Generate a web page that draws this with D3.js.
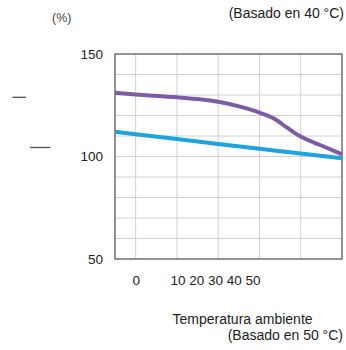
<!DOCTYPE html>
<html>
<head>
<meta charset="utf-8">
<script src="https://cdn.jsdelivr.net/npm/d3@7"></script>
<style>
  html, body { margin: 0; padding: 0; background: #fff; }
  svg { display: block; font-family: "Liberation Sans", Arial, sans-serif; }
</style>
</head>
<body>
<svg id="chart" width="346" height="350"></svg>
<script>
// ---- data ----
const purpleX = [-5, 0, 10, 15.6, 20, 25.3, 30, 33.4, 36.6, 40, 44.7, 50];
const purpleY = [131.1, 130.3, 128.9, 127.9, 126.7, 124.3, 121.4, 118.6, 114.2, 109.7, 105.6, 101.1];
const blueX = [-5, 0, 10, 20, 30, 40, 50];
const blueY = [112.1, 110.9, 108.5, 106.1, 103.8, 101.5, 99.1];
const yTicks = [150, 100, 50];
const yGrid = [60, 70, 80, 90, 100, 110, 120, 130, 140];
const xGrid = [0, 10, 20, 30, 40];
const xTickFirst = ["0"];
const xTickRest = ["10", "20", "30", "40", "50"];
const topNote = "(Basado en 40 °C)";
const unitLabel = "(%)";
const xTitle = "Temperatura ambiente";
const xNote = "(Basado en 50 °C)";

// ---- layout ----
const svg = d3.select("#chart");
const L = 115, R = 342, T = 54, B = 259;
const x = d3.scaleLinear().domain([-5, 50]).range([L, R]);
const y = d3.scaleLinear().domain([50, 150]).range([B, T]);

// grid
svg.append("g").selectAll("line").data(yGrid).join("line")
  .attr("x1", L).attr("x2", R).attr("y1", d => y(d)).attr("y2", d => y(d))
  .attr("stroke", "#d0d0d0").attr("stroke-width", 1);
svg.append("g").selectAll("line").data(xGrid).join("line")
  .attr("x1", d => x(d)).attr("x2", d => x(d)).attr("y1", T).attr("y2", B)
  .attr("stroke", "#d0d0d0").attr("stroke-width", 1);

// border
svg.append("rect").attr("x", L).attr("y", T).attr("width", R - L).attr("height", B - T)
  .attr("fill", "none").attr("stroke", "#5a5a5a").attr("stroke-width", 1.3);

// lines
const lineP = d3.line().x(d => x(d[0])).y(d => y(d[1])).curve(d3.curveMonotoneX);
svg.append("path").datum(blueX.map((v, i) => [v, blueY[i]]))
  .attr("d", lineP).attr("fill", "none").attr("stroke", "#1ba5dc").attr("stroke-width", 4);
svg.append("path").datum(purpleX.map((v, i) => [v, purpleY[i]]))
  .attr("d", lineP).attr("fill", "none").attr("stroke", "#7d5ba6").attr("stroke-width", 4);

// y axis labels
const yAxis = d3.axisLeft(y).tickValues(yTicks).tickSize(0).tickPadding(12).tickFormat(d3.format("d"));
const gy = svg.append("g").attr("transform", `translate(${L},0)`).call(yAxis);
gy.select(".domain").remove();
gy.selectAll("text").attr("font-size", 13.5).attr("fill", "#222").attr("font-family", "Liberation Sans, Arial, sans-serif");

// x axis labels
const xAxis = d3.axisBottom(x).tickValues([0]).tickSize(0).tickPadding(16).tickFormat(() => xTickFirst[0]);
const gx = svg.append("g").attr("transform", `translate(0,${B})`).call(xAxis);
gx.select(".domain").remove();
gx.selectAll("text").attr("font-size", 13.5).attr("fill", "#222").attr("font-family", "Liberation Sans, Arial, sans-serif");
svg.append("text").attr("x", 170.5).attr("y", 285).attr("font-size", 13.5).attr("fill", "#222")
  .text(xTickRest.join(" "));

// titles
svg.append("text").attr("x", 344).attr("y", 18).attr("text-anchor", "end")
  .attr("font-size", 14).attr("fill", "#222").text(topNote);
svg.append("text").attr("x", 52).attr("y", 22).attr("font-size", 12.5).attr("fill", "#444").text(unitLabel);
svg.append("text").attr("x", 172.5).attr("y", 324).attr("font-size", 14).attr("fill", "#222").text(xTitle);
svg.append("text").attr("x", 343).attr("y", 340).attr("text-anchor", "end")
  .attr("font-size", 14).attr("fill", "#222").text(xNote);

// small marks at left
svg.append("line").attr("x1", 12.5).attr("x2", 26).attr("y1", 97.3).attr("y2", 97.3)
  .attr("stroke", "#555").attr("stroke-width", 1.3);
svg.append("line").attr("x1", 30).attr("x2", 50.5).attr("y1", 147.5).attr("y2", 147.5)
  .attr("stroke", "#555").attr("stroke-width", 1.3);
</script>
</body>
</html>
